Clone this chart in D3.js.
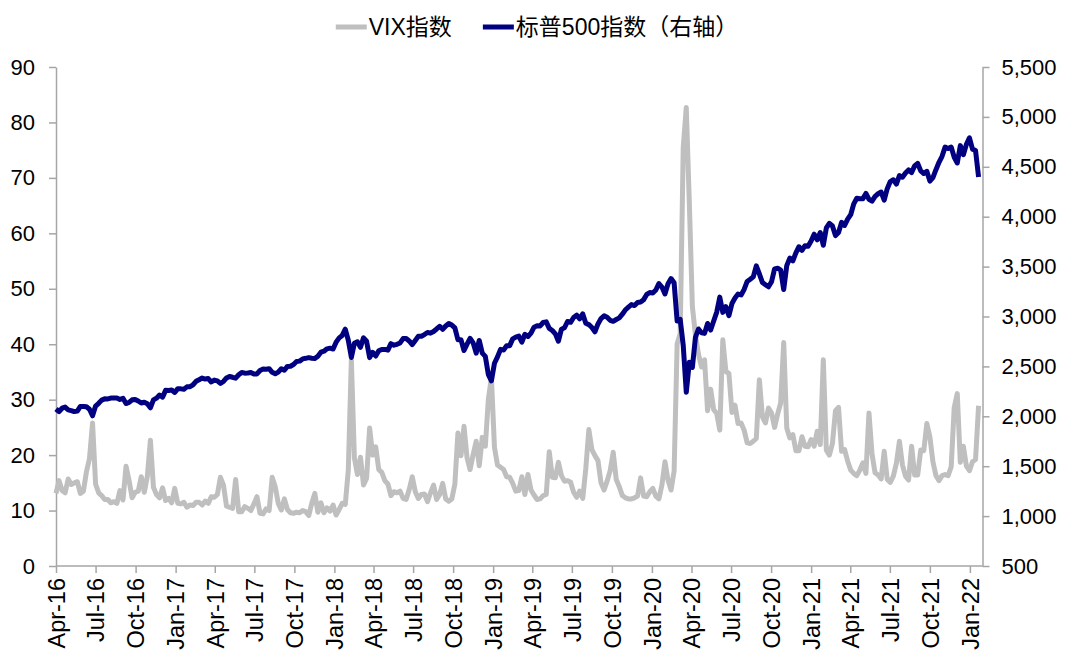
<!DOCTYPE html>
<html>
  <head>
    <meta charset="utf-8">
    <title>VIX vs S&P 500</title>
    <style>
      body { margin: 0; background: #fff; }
      svg { display: block; }
      .axis text { font-family: "Liberation Sans", Arial, "Noto Sans CJK SC", sans-serif; font-size: 22px; fill: #000; }
      .x-axis text { font-size: 23.5px; }
      .axis path, .axis line { stroke: #a6a6a6; stroke-width: 1.5px; }
      .legend text { font-family: "Liberation Sans", Arial, "Noto Sans CJK SC", sans-serif; font-size: 23px; fill: #000; }
    </style>
  </head>
  <body>
    <script src="https://cdn.jsdelivr.net/npm/d3@7"></script>
    <script>

      // legend names
      var seriesNames = ["VIX指数", "标普500指数（右轴）"];

      // x-axis tick labels (quarters)
      var xTicks = ["Apr-16", "Jul-16", "Oct-16", "Jan-17", "Apr-17", "Jul-17", "Oct-17",
                    "Jan-18", "Apr-18", "Jul-18", "Oct-18", "Jan-19", "Apr-19", "Jul-19",
                    "Oct-19", "Jan-20", "Apr-20", "Jul-20", "Oct-20", "Jan-21", "Apr-21",
                    "Jul-21", "Oct-21", "Jan-22"];

      // y-axis ticks
      var leftTicks = [0, 10, 20, 30, 40, 50, 60, 70, 80, 90];
      var rightTicks = [500, 1000, 1500, 2000, 2500, 3000, 3500, 4000, 4500, 5000, 5500];

      // weekly observations (Fridays), first week and last week
      var firstWeek = "2016-04-01";
      var lastWeek = "2022-01-21";

      // VIX, weekly
      var vix2016 = [13.1, 15.4, 13.6, 13.2, 15.7, 14.7, 15.0, 15.2, 13.1, 13.5, 17.0, 19.4, 25.8,
                     14.8, 13.2, 12.7, 12.0, 12.0, 11.4, 11.6, 11.3, 13.6, 11.9, 18.0, 15.4, 12.3,
                     13.3, 13.5, 16.1, 13.3, 16.2, 22.7, 14.2, 12.9, 12.3, 14.1, 11.8, 12.2, 11.4, 14.0];
      var vix2017 = [11.3, 11.2, 11.5, 10.6, 11.0, 10.9, 11.5, 11.5, 11.0, 11.7, 11.3, 12.5, 12.4,
                     12.9, 16.0, 14.6, 10.8, 10.6, 10.4, 15.6, 9.8, 9.8, 10.7, 10.4, 10.0, 11.2,
                     12.5, 9.5, 9.4, 10.3, 10.0, 16.0, 14.3, 11.3, 10.1, 12.1, 10.2, 9.6, 9.5,
                     9.7, 9.6, 10.0, 9.8, 9.1, 11.3, 13.1, 9.7, 11.4, 9.6, 10.5, 9.9, 11.0];
      var vix2018 = [9.2, 10.2, 11.3, 11.1, 17.3, 37.2, 19.5, 16.5, 19.6, 14.6, 15.8, 24.9, 20.0,
                     21.5, 17.4, 16.9, 15.4, 14.8, 12.7, 13.4, 13.2, 13.5, 12.2, 12.0, 13.8, 16.1,
                     13.4, 12.2, 12.9, 13.0, 11.6, 13.2, 14.6, 12.0, 12.9, 14.9, 12.1, 11.7, 12.1,
                     14.8, 24.0, 19.9, 25.2, 19.5, 17.4, 20.1, 22.5, 18.1, 23.2, 21.6, 30.1, 34.0];
      var vix2019 = [21.4, 18.2, 17.8, 17.4, 16.1, 16.0, 14.9, 13.5, 13.6, 16.1, 12.9, 16.5, 13.7,
                     12.8, 12.0, 12.1, 12.7, 12.9, 20.6, 16.0, 15.9, 18.7, 16.3, 15.3, 15.4, 15.1,
                     13.3, 12.4, 13.5, 12.2, 17.6, 24.6, 21.0, 19.9, 19.0, 15.0, 13.7, 15.3, 17.2,
                     20.5, 15.6, 14.3, 12.7, 12.3, 12.1, 12.1, 12.3, 12.6, 15.9, 12.6, 12.5, 13.4];
      var vix2020 = [14.0, 12.6, 12.1, 14.6, 18.8, 15.5, 13.7, 17.1, 40.1, 41.9, 75.5, 82.7, 65.5,
                     46.8, 41.7, 38.2, 35.9, 37.2, 28.0, 31.9, 28.2, 27.5, 24.5, 40.8, 35.1, 34.7,
                     27.7, 29.0, 25.7, 25.8, 24.5, 22.2, 22.1, 22.5, 23.0, 33.6, 26.9, 25.8, 28.5,
                     27.6, 25.0, 27.4, 29.4, 40.3, 24.9, 23.1, 23.7, 20.8, 20.8, 23.3, 21.6, 21.5];
      var vix2021 = [22.8, 21.6, 24.3, 21.9, 37.2, 20.9, 20.0, 22.1, 28.0, 28.6, 20.7, 21.0, 18.9,
                     17.3, 16.7, 16.3, 17.3, 18.6, 16.7, 27.6, 20.2, 16.8, 16.4, 15.7, 20.7, 15.6,
                     15.1, 16.2, 18.5, 22.5, 18.2, 16.2, 15.5, 21.6, 16.4, 16.4, 20.9, 20.8, 25.7,
                     23.3, 18.8, 16.3, 15.4, 16.3, 16.5, 16.3, 17.9, 28.6, 31.1, 18.7, 21.6, 18.0, 17.2];
      var vix2022 = [18.8, 19.2, 28.9];

      // S&P 500, weekly
      var spx2016 = [2073, 2047, 2081, 2092, 2065, 2057, 2047, 2052, 2099, 2099, 2096, 2071, 2005,
                     2103, 2130, 2162, 2175, 2174, 2183, 2184, 2184, 2169, 2180, 2128, 2139, 2165,
                     2168, 2153, 2133, 2141, 2126, 2085, 2164, 2182, 2213, 2192, 2260, 2258, 2263, 2239];
      var spx2017 = [2277, 2275, 2271, 2295, 2297, 2316, 2351, 2367, 2383, 2373, 2378, 2344, 2363,
                     2355, 2329, 2349, 2384, 2399, 2391, 2382, 2416, 2439, 2432, 2433, 2438, 2423,
                     2425, 2459, 2473, 2472, 2477, 2441, 2426, 2443, 2477, 2461, 2500, 2502, 2519,
                     2549, 2553, 2575, 2581, 2588, 2582, 2579, 2602, 2642, 2652, 2676, 2683, 2674];
      var spx2018 = [2743, 2786, 2810, 2873, 2762, 2590, 2732, 2747, 2691, 2786, 2752, 2588, 2641,
                     2604, 2656, 2670, 2670, 2663, 2728, 2713, 2721, 2735, 2779, 2780, 2755, 2718,
                     2760, 2801, 2802, 2819, 2840, 2833, 2850, 2875, 2902, 2872, 2905, 2930, 2914,
                     2886, 2767, 2768, 2659, 2723, 2781, 2736, 2633, 2760, 2633, 2600, 2417, 2355];
      var spx2019 = [2532, 2596, 2671, 2665, 2707, 2708, 2776, 2793, 2804, 2743, 2822, 2800, 2834,
                     2893, 2907, 2905, 2940, 2946, 2881, 2860, 2826, 2752, 2873, 2887, 2950, 2942,
                     2990, 3014, 2977, 3026, 2932, 2919, 2889, 2847, 2926, 2979, 3007, 2992, 2962,
                     2952, 2970, 2986, 3023, 3067, 3093, 3120, 3110, 3141, 3146, 3169, 3221, 3240];
      var spx2020 = [3235, 3265, 3330, 3295, 3226, 3328, 3380, 3338, 2954, 2972, 2711, 2240, 2541,
                     2489, 2790, 2875, 2837, 2831, 2930, 2864, 2955, 3044, 3194, 3041, 3098, 3009,
                     3130, 3185, 3225, 3216, 3271, 3351, 3373, 3397, 3508, 3427, 3341, 3319, 3298,
                     3348, 3477, 3484, 3465, 3270, 3510, 3585, 3558, 3638, 3699, 3663, 3709, 3703];
      var spx2021 = [3756, 3825, 3768, 3841, 3714, 3887, 3934, 3907, 3811, 3842, 3943, 3913, 3975,
                     4020, 4129, 4185, 4180, 4181, 4233, 4174, 4156, 4204, 4230, 4247, 4166, 4281,
                     4352, 4370, 4327, 4412, 4395, 4437, 4468, 4442, 4509, 4535, 4459, 4433, 4455,
                     4357, 4391, 4471, 4545, 4605, 4697, 4683, 4698, 4595, 4538, 4712, 4621, 4725, 4790];
      var spx2022 = [4677, 4663, 4398];

      var vix = [].concat(vix2016, vix2017, vix2018, vix2019, vix2020, vix2021, vix2022);
      var spx = [].concat(spx2016, spx2017, spx2018, spx2019, spx2020, spx2021, spx2022);

      var parseDay = d3.timeParse("%Y-%m-%d");
      var parseTick = d3.timeParse("%b-%y");
      var weeks = d3.timeFriday.range(parseDay(firstWeek), d3.timeDay.offset(parseDay(lastWeek), 1));

      var n = Math.min(weeks.length, vix.length, spx.length);
      var data = [];
      for (var i = 0; i < n; i++) {
        data.push({date: weeks[i], vix: vix[i], spx: spx[i]});
      }

      // chart size
      var w = 1080;
      var h = 663;
      var plotLeft = 56;
      var plotRight = 982.5;
      var plotTop = 67;
      var plotBottom = 566;

      var svg = d3.select("body")
        .append("svg")
        .attr("width", w)
        .attr("height", h);

      var xScale = d3.scaleTime()
        .domain([parseDay("2016-04-01"), parseDay("2022-01-30")])
        .range([plotLeft, plotRight]);

      var yLeft = d3.scaleLinear()
        .domain([0, 90])
        .range([plotBottom, plotTop]);

      var yRight = d3.scaleLinear()
        .domain([500, 5500])
        .range([plotBottom, plotTop]);

      // axes
      var xAxis = d3.axisBottom(xScale)
        .tickValues(xTicks.map(parseTick))
        .tickFormat(d3.timeFormat("%b-%y"))
        .tickSize(7)
        .tickSizeOuter(0);

      var gx = svg.append("g")
        .attr("class", "axis x-axis")
        .attr("transform", "translate(0," + plotBottom + ")")
        .call(xAxis);

      gx.select(".domain").attr("d", "M" + plotLeft + ",0H" + plotRight);

      gx.selectAll("text")
        .attr("transform", "rotate(-90)")
        .attr("text-anchor", "end")
        .attr("x", -12)
        .attr("y", 0)
        .attr("dy", "0.35em");

      svg.append("g")
        .attr("class", "axis")
        .attr("transform", "translate(" + plotLeft + ",0)")
        .call(d3.axisLeft(yLeft).tickValues(leftTicks).tickSize(7).tickSizeOuter(0).tickPadding(14));

      svg.append("g")
        .attr("class", "axis")
        .attr("transform", "translate(" + plotRight + ",0)")
        .call(d3.axisRight(yRight).tickValues(rightTicks).tickFormat(d3.format(",")).tickSize(7).tickSizeOuter(0).tickPadding(12));

      // lines
      var vixLine = d3.line()
        .x(function(d) { return xScale(d.date); })
        .y(function(d) { return yLeft(d.vix); });

      var spxLine = d3.line()
        .x(function(d) { return xScale(d.date); })
        .y(function(d) { return yRight(d.spx); });

      svg.append("path")
        .datum(data)
        .attr("fill", "none")
        .attr("stroke", "#bfbfbf")
        .attr("stroke-width", 5)
        .attr("stroke-linejoin", "round")
        .attr("d", vixLine);

      svg.append("path")
        .datum(data)
        .attr("fill", "none")
        .attr("stroke", "#000080")
        .attr("stroke-width", 5)
        .attr("stroke-linejoin", "round")
        .attr("d", spxLine);

      // legend, centred above the plot
      var colors = ["#bfbfbf", "#000080"];
      var legend = svg.append("g").attr("class", "legend");
      var items = legend.selectAll("g")
        .data(seriesNames)
        .enter()
        .append("g");

      items.append("line")
        .attr("x1", 0).attr("x2", 31)
        .attr("y1", 0).attr("y2", 0)
        .attr("stroke", function(d, i) { return colors[i]; })
        .attr("stroke-width", 5);

      items.append("text")
        .attr("x", 33)
        .attr("y", 0)
        .attr("dy", "0.36em")
        .text(function(d) { return d; });

      var widths = [];
      items.each(function(d, i) {
        var tw = d3.select(this).select("text").node().getComputedTextLength();
        widths.push(33 + tw);
      });
      var total = d3.sum(widths) + 31 * (widths.length - 1);
      var start = 537 - total / 2;
      items.attr("transform", function(d, i) {
        var x = start + d3.sum(widths.slice(0, i)) + 31 * i;
        return "translate(" + x + ",27)";
      });

    </script>
  </body>
</html>
